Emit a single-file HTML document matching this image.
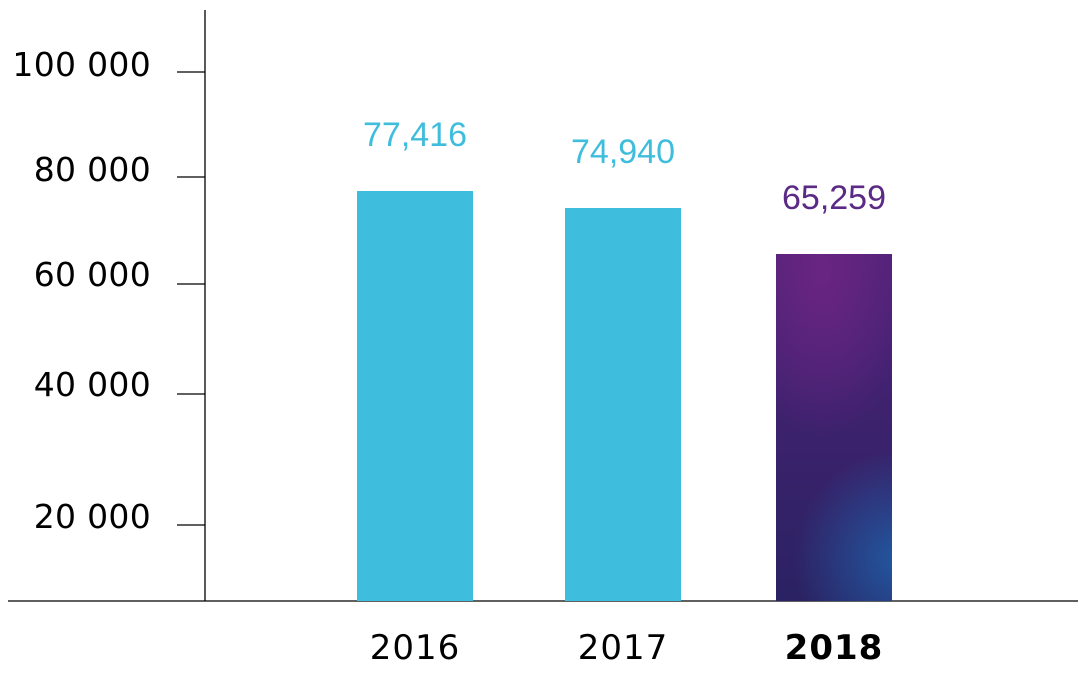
<!DOCTYPE html>
<html><head><style>html,body{margin:0;padding:0;background:#fff}svg{display:block}</style></head>
<body>
<svg width="1079" height="688" viewBox="0 0 1079 688" xmlns="http://www.w3.org/2000/svg">
<defs>
<radialGradient id="g1" cx="0.4" cy="0.05" r="0.8" gradientUnits="objectBoundingBox" gradientTransform="translate(0.4,0.05) scale(1,0.6) translate(-0.4,-0.05)">
<stop offset="0" stop-color="#6a2583"/><stop offset="1" stop-color="#6a2583" stop-opacity="0"/></radialGradient>
<radialGradient id="g2" cx="1.05" cy="0.88" r="0.9" gradientUnits="objectBoundingBox" gradientTransform="translate(1.05,0.88) scale(1,0.35) translate(-1.05,-0.88)">
<stop offset="0" stop-color="#22579f"/><stop offset="1" stop-color="#22579f" stop-opacity="0"/></radialGradient>
<linearGradient id="g0" x1="0" y1="0" x2="0" y2="1"><stop offset="0" stop-color="#4e2278"/><stop offset="1" stop-color="#2a2262"/></linearGradient>
</defs>
<g stroke="#000" stroke-width="1.3">
<line x1="205" y1="10" x2="205" y2="601"/>
<line x1="8" y1="601" x2="1078" y2="601"/>
<line x1="177" y1="72" x2="205" y2="72"/>
<line x1="177" y1="177" x2="205" y2="177"/>
<line x1="177" y1="284" x2="205" y2="284"/>
<line x1="177" y1="394" x2="205" y2="394"/>
<line x1="177" y1="525" x2="205" y2="525"/>
</g>
<g font-family="DejaVu Sans, Liberation Sans, sans-serif" font-size="33" text-anchor="end" fill="#000" letter-spacing="0.3">
<text x="151" y="76">100 000</text>
<text x="151" y="181">80 000</text>
<text x="151" y="286">60 000</text>
<text x="151" y="396">40 000</text>
<text x="151" y="528">20 000</text>
</g>
<rect x="357" y="191" width="116" height="410" fill="#3fbddc"/>
<rect x="565" y="208" width="116" height="393" fill="#3fbddc"/>
<rect x="776" y="254" width="116" height="347" fill="url(#g0)"/>
<rect x="776" y="254" width="116" height="347" fill="url(#g1)"/>
<rect x="776" y="254" width="116" height="347" fill="url(#g2)"/>
<g font-family="Liberation Sans Narrow, Liberation Sans, sans-serif" font-size="34" text-anchor="middle">
<text x="415" y="146" fill="#3fbddc">77,416</text>
<text x="623" y="163" fill="#3fbddc">74,940</text>
<text x="834" y="209" fill="#5b2a86">65,259</text>
</g>
<g font-family="DejaVu Sans, Liberation Sans, sans-serif" font-size="34" text-anchor="middle" fill="#000" letter-spacing="1">
<text x="415" y="659">2016</text>
<text x="623" y="659">2017</text>
<text x="834" y="659" font-weight="bold">2018</text>
</g>
</svg>
</body></html>
